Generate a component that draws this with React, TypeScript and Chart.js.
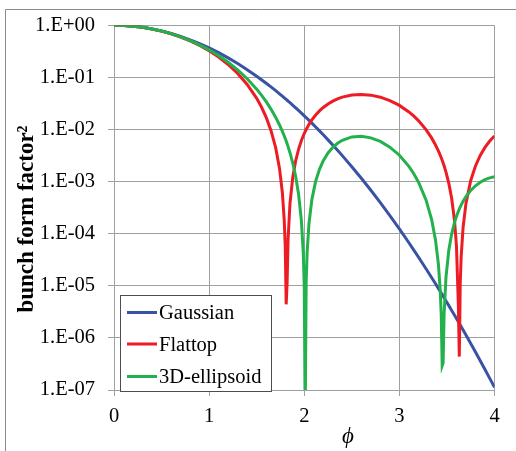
import React, { useEffect, useRef } from "react";
import { Chart, registerables } from "chart.js";

Chart.register(...registerables);

const PHI = [
  0, 0.1, 0.2, 0.3, 0.4, 0.5, 0.6, 0.7, 0.8, 0.9, 1.0, 1.1, 1.2, 1.3, 1.4, 1.5,
  1.55, 1.6, 1.65, 1.7, 1.74, 1.77, 1.79, 1.8, 1.81, 1.82, 1.83, 1.85, 1.88, 1.91, 1.94, 1.97, 1.99,
  2.0, 2.01, 2.02, 2.03, 2.05, 2.08, 2.12, 2.16, 2.2, 2.25,
  2.3, 2.35, 2.4, 2.5, 2.6, 2.7, 2.8, 2.9, 3.0, 3.1, 3.15, 3.2,
  3.28, 3.34, 3.38, 3.41, 3.43, 3.44, 3.45, 3.46, 3.47, 3.49,
  3.52, 3.55, 3.58, 3.6, 3.62, 3.63, 3.64, 3.65, 3.67, 3.7,
  3.75, 3.8, 3.85, 3.9, 3.95, 4.0,
];

const GAUSSIAN = [
  1, 0.99005, 0.96079, 0.91393, 0.85214, 0.7788, 0.69768, 0.61263, 0.52729, 0.44486, 0.36788, 0.2982, 0.23693, 0.18452, 0.14086, 0.1054,
  0.09049, 0.0773, 0.06571, 0.05558, 0.04843, 0.04359, 0.0406, 0.03916, 0.03778, 0.03643, 0.03512, 0.03263, 0.02918, 0.02604, 0.0232, 0.02063, 0.01906,
  0.018316, 0.017596, 0.016902, 0.01623, 0.014958, 0.013216, 0.011172, 0.009414, 0.007907, 0.0063297,
  0.005042, 0.0039958, 0.003151, 0.0019305, 0.0011592, 0.0006823, 0.0003937, 0.00022263, 0.0001234, 6.706e-5, 4.906e-5, 3.571e-5,
  2.127e-5, 1.43e-5, 1.0925e-5, 8.92e-6, 7.77e-6, 7.26e-6, 6.77e-6, 6.32e-6, 5.9e-6, 5.13e-6,
  4.16e-6, 3.363e-6, 2.716e-6, 2.353e-6, 2.036e-6, 1.894e-6, 1.761e-6, 1.637e-6, 1.415e-6, 1.134e-6,
  7.81e-7, 5.355e-7, 3.653e-7, 2.48e-7, 1.6746e-7, 1.125e-7,
];

const FLATTOP = [
  1, 0.99003, 0.96064, 0.91318, 0.8499, 0.7737, 0.68803, 0.59659, 0.50318, 0.41147, 0.32474, 0.2458, 0.17678, 0.11909, 0.073391, 0.039621,
  0.027005, 0.017054, 0.009593, 0.0044234, 0.0017891, 0.00061117, 0.00017668, 5.8768e-5, 4.409e-6, 1.1608e-5, 7.8348e-5, 0.0003824, 0.0012345, 0.0025134, 0.0041648, 0.006135, 0.0075995,
  0.0083714, 0.0091669, 0.0099844, 0.010822, 0.012551, 0.015251, 0.018977, 0.022754, 0.026486, 0.030956,
  0.035073, 0.038713, 0.041777, 0.045912, 0.047186, 0.045666, 0.04172, 0.035934, 0.029025, 0.021749, 0.0182, 0.01482,
  0.0099377, 0.0068211, 0.0050453, 0.0038828, 0.0031913, 0.0028708, 0.0025675, 0.0022811, 0.002012, 0.0015253,
  0.00092363, 0.00047494, 0.00017638, 5.8728e-5, 4.406e-6, 4.3757e-7, 1.1607e-5, 3.7648e-5, 0.00013324, 0.00038091,
  0.0010495, 0.0019979, 0.003177, 0.0045271, 0.0059976, 0.0075304,
];

const ELLIPSOID = [
  1, 0.990043, 0.960679, 0.913395, 0.850549, 0.775197, 0.690883, 0.601388, 0.510483, 0.42168, 0.338099, 0.262192, 0.195686, 0.139652, 0.094363, 0.059487,
  0.045693, 0.034138, 0.024651, 0.01705, 0.012194, 0.0092016, 0.0074914, 0.0067168, 0.0059938, 0.005321, 0.0046966, 0.0035867, 0.0022459, 0.0012574, 0.00058086, 0.00017738, 4.1619e-5,
  9.7014e-6, 2.486e-8, 1.1325e-5, 4.2358e-5, 0.00015878, 0.00045182, 0.0010175, 0.001724, 0.0025136, 0.0035418,
  0.0045403, 0.0054448, 0.0062077, 0.0071955, 0.0074068, 0.0069136, 0.0058955, 0.0045834, 0.0032079, 0.0019637, 0.001436, 0.00098671,
  0.00044504, 0.00018366, 7.5285e-5, 2.6237e-5, 7.8826e-6, 2.7806e-6, 2.9236e-7, 3.2936e-7, 2.8093e-6, 1.4726e-5,
  4.863e-5, 9.9475e-5, 0.00016461, 0.00021466, 0.00026906, 0.00029764, 0.00032703, 0.00035713, 0.00041902, 0.00051475,
  0.00067616, 0.00083117, 0.00097101, 0.0010887, 0.0011789, 0.0012384,
];

const SERIES_NAMES = ["Gaussian", "Flattop", "3D-ellipsoid"];
const SERIES_COLORS = ["rgb(57,83,164)", "rgb(237,28,36)", "rgb(34,177,76)"];

const Y_TICKS = [1e-7, 1e-6, 1e-5, 1e-4, 1e-3, 1e-2, 1e-1, 1];
const Y_TICK_LABELS = ["1.E-07", "1.E-06", "1.E-05", "1.E-04", "1.E-03", "1.E-02", "1.E-01", "1.E+00"];
const X_TICKS = [0, 1, 2, 3, 4];
const Y_TITLE = "bunch form factor²";
const X_TITLE = "ϕ";

const FONT = "'Liberation Serif', 'Times New Roman', serif";
const GRID = "#a0a0a0";

const decorPlugin = {
  id: "decor",
  beforeDraw(chart: any) {
    const ctx = chart.ctx;
    ctx.save();
    ctx.strokeStyle = "#8a8a8a";
    ctx.lineWidth = 1;
    ctx.beginPath();
    ctx.moveTo(5.5, 470);
    ctx.lineTo(5.5, 9.5);
    ctx.lineTo(540, 9.5);
    ctx.stroke();
    ctx.restore();
  },
  afterDraw(chart: any) {
    const ctx = chart.ctx;
    ctx.save();
    // legend box
    ctx.fillStyle = "#ffffff";
    ctx.fillRect(120.5, 295.5, 151, 96);
    ctx.strokeStyle = "#4d4d4d";
    ctx.lineWidth = 1;
    ctx.strokeRect(120.5, 295.5, 151, 96);
    const rows = [312.5, 344, 376.5];
    ctx.font = `20.5px ${FONT}`;
    ctx.textAlign = "left";
    ctx.textBaseline = "alphabetic";
    SERIES_NAMES.forEach((name, i) => {
      ctx.strokeStyle = SERIES_COLORS[i];
      ctx.lineWidth = 3;
      ctx.beginPath();
      ctx.moveTo(127, rows[i]);
      ctx.lineTo(157, rows[i]);
      ctx.stroke();
      ctx.fillStyle = "#000";
      ctx.fillText(name, 159, rows[i] + 6.5);
    });
    // y title
    ctx.save();
    ctx.translate(33, 219);
    ctx.rotate(-Math.PI / 2);
    ctx.font = `bold 23px ${FONT}`;
    ctx.textAlign = "center";
    ctx.textBaseline = "alphabetic";
    ctx.fillStyle = "#000";
    ctx.fillText(Y_TITLE, 0, 0);
    ctx.restore();
    // x title
    ctx.font = `italic 23px ${FONT}`;
    ctx.textAlign = "center";
    ctx.textBaseline = "alphabetic";
    ctx.fillStyle = "#000";
    ctx.fillText(X_TITLE, 348, 443);
    ctx.restore();
  },
};

export default function App() {
  const ref = useRef<HTMLCanvasElement | null>(null);

  useEffect(() => {
    if (!ref.current) return;
    const series = [GAUSSIAN, FLATTOP, ELLIPSOID];
    const chart = new Chart(ref.current, {
      type: "line",
      data: {
        datasets: series.map((vals, i) => ({
          label: SERIES_NAMES[i],
          data: PHI.map((x, j) => ({ x, y: vals[j] })),
          borderColor: SERIES_COLORS[i],
          backgroundColor: SERIES_COLORS[i],
          borderWidth: 3,
          pointRadius: 0,
          tension: 0,
          fill: false,
          order: 2 - i,
        })),
      },
      options: {
        responsive: false,
        animation: false,
        devicePixelRatio: 1,
        layout: { padding: { left: 0, right: 21.5, top: 21, bottom: 0 } },
        plugins: {
          legend: { display: false },
          tooltip: { enabled: false },
        },
        scales: {
          x: {
            type: "linear",
            min: 0,
            max: 4,
            afterBuildTicks: (s: any) => {
              s.ticks = X_TICKS.map((v) => ({ value: v }));
            },
            afterFit: (s: any) => {
              s.height = 61;
            },
            ticks: {
              font: { family: FONT, size: 20.5 },
              color: "#000",
              padding: 8,
              maxRotation: 0,
              callback: (v: any) => String(v),
            },
            grid: { color: GRID, lineWidth: 1, tickLength: 6, drawTicks: true },
            border: { color: GRID },
          },
          y: {
            type: "logarithmic",
            min: 1e-7,
            max: 1,
            afterBuildTicks: (s: any) => {
              s.ticks = Y_TICKS.map((v) => ({ value: v }));
            },
            afterFit: (s: any) => {
              s.width = 114;
            },
            ticks: {
              font: { family: FONT, size: 20.5 },
              color: "#000",
              padding: 13,
              callback: (v: any) => {
                const i = Y_TICKS.findIndex((t) => Math.abs(Math.log10(t) - Math.log10(v)) < 1e-6);
                return i >= 0 ? Y_TICK_LABELS[i] : "";
              },
            },
            grid: { color: GRID, lineWidth: 1, tickLength: 6, drawTicks: true },
            border: { color: GRID },
          },
        },
      },
      plugins: [decorPlugin],
    });
    return () => chart.destroy();
  }, []);

  return (
    <div style={{ position: "fixed", left: 0, top: 0, width: 516, height: 451, background: "#fff" }}>
      <canvas ref={ref} width={516} height={451} style={{ width: 516, height: 451, display: "block" }} />
    </div>
  );
}
